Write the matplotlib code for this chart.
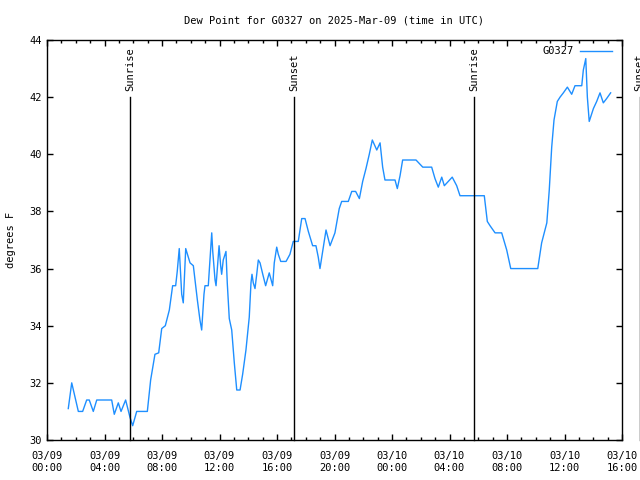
import pandas as pd
import numpy as np
import matplotlib
matplotlib.use('Agg')
import matplotlib.pyplot as plt
import matplotlib.dates as mdates

# === data: hours since 2025-03-09 00:00 UTC, dew point (F) ===
hours = [1.48, 1.72, 2.18, 2.48, 2.76, 2.94, 3.22, 3.46, 4.50, 4.68, 4.96, 5.15,
         5.47, 5.77, 5.96, 6.24, 6.98, 7.21, 7.51, 7.77, 7.98, 8.23, 8.51, 8.74,
         8.95, 9.06, 9.20, 9.37, 9.48, 9.65, 9.95, 10.18, 10.46, 10.64, 10.76, 10.92,
         10.99, 11.22, 11.34, 11.46, 11.53, 11.69, 11.76, 11.97, 12.08, 12.15, 12.26, 12.45,
         12.54, 12.68, 12.85, 13.03, 13.20, 13.43, 13.61, 13.84, 14.07, 14.19, 14.26, 14.35,
         14.47, 14.59, 14.70, 14.82, 15.01, 15.21, 15.46, 15.70, 15.81, 15.98, 16.09, 16.26,
         16.63, 16.90, 17.13, 17.48, 17.72, 17.95, 18.18, 18.48, 18.71, 18.87, 18.99, 19.22,
         19.41, 19.69, 20.03, 20.33, 20.50, 20.96, 21.20, 21.47, 21.73, 21.96, 22.19, 22.42,
         22.63, 22.94, 23.17, 23.35, 23.51, 24.21, 24.37, 24.56, 24.74, 25.67, 26.14, 26.76,
         26.99, 27.22, 27.46, 27.64, 28.19, 28.50, 28.73, 30.42, 30.63, 30.82, 31.17, 31.63,
         31.98, 32.26, 34.14, 34.41, 34.77, 34.94, 35.11, 35.27, 35.50, 35.69, 35.92, 36.20,
         36.50, 36.73, 37.20, 37.31, 37.48, 37.59, 37.72, 38.01, 38.24, 38.47, 38.70, 38.93,
         39.21]
dewpoint = [31.1, 32.0, 31.0, 31.0, 31.4, 31.4, 31.0, 31.4, 31.4, 30.9, 31.3, 31.0,
            31.4, 30.8, 30.5, 31.0, 31.0, 32.1, 33.0, 33.05, 33.9, 34.0, 34.55, 35.4,
            35.4, 35.9, 36.7, 35.1, 34.8, 36.7, 36.2, 36.1, 34.9, 34.2, 33.85, 35.1,
            35.4, 35.4, 36.3, 37.25, 36.6, 35.6, 35.4, 36.8, 36.1, 35.8, 36.3, 36.6,
            35.5, 34.25, 33.85, 32.7, 31.75, 31.75, 32.3, 33.15, 34.3, 35.5, 35.8, 35.5,
            35.3, 35.8, 36.3, 36.2, 35.8, 35.4, 35.85, 35.4, 36.2, 36.75, 36.5, 36.25,
            36.25, 36.5, 36.95, 36.95, 37.75, 37.75, 37.3, 36.8, 36.8, 36.4, 36.0, 36.75,
            37.35, 36.8, 37.25, 38.1, 38.35, 38.35, 38.7, 38.7, 38.45, 39.05, 39.5, 40.0,
            40.5, 40.15, 40.4, 39.55, 39.1, 39.1, 38.8, 39.25, 39.8, 39.8, 39.55, 39.55,
            39.15, 38.85, 39.2, 38.9, 39.2, 38.9, 38.55, 38.55, 37.65, 37.5, 37.25, 37.25,
            36.65, 36.0, 36.0, 36.9, 37.6, 38.75, 40.25, 41.2, 41.85, 42.0, 42.15, 42.35,
            42.1, 42.4, 42.4, 42.95, 43.35, 42.0, 41.15, 41.6, 41.85, 42.15, 41.8, 41.95,
            42.15]

sun_events = ['Sunrise', 'Sunset', 'Sunrise', 'Sunset']
sun_hours = [5.77, 17.18, 29.70, 41.22]

start = pd.Timestamp('2025-03-09 00:00')
times = start + pd.to_timedelta(hours, unit='h')
sun_times = start + pd.to_timedelta(sun_hours, unit='h')

plt.rcParams['font.family'] = ['DejaVu Sans Mono']
plt.rcParams['font.size'] = 7.5

fig = plt.figure(figsize=(6.4, 4.8), dpi=100)
ax = fig.add_axes([47 / 640, 40 / 480, 575 / 640, 400 / 480])

ax.plot(times, dewpoint, color='#1e8fff', linewidth=1, label='G0327')

# sunrise / sunset markers (the last one sits just past the right edge, like the original)
for name, t in zip(sun_events, sun_times):
    ax.axvline(t, ymin=0, ymax=(42 - 30) / 14, color='black', linewidth=1, clip_on=False)
    ax.text(t, 42.2, name, rotation=90, ha='center', va='bottom', clip_on=False)

ax.set_xlim(start, start + pd.Timedelta(hours=40))
ax.set_ylim(30, 44)
ax.set_yticks(np.arange(30, 45, 2))

ax.xaxis.set_major_locator(mdates.HourLocator(byhour=range(0, 24, 4)))
ax.xaxis.set_minor_locator(mdates.HourLocator())
ax.xaxis.set_major_formatter(mdates.DateFormatter('%m/%d\n%H:%M'))

ax.tick_params(which='both', direction='in', top=True, right=True, colors='black')
ax.tick_params(which='major', length=4.5, width=1)
ax.tick_params(which='minor', length=2.5, width=1)
ax.tick_params(axis='x', pad=8)
for s in ax.spines.values():
    s.set_linewidth(1)

ax.set_title('Dew Point for G0327 on 2025-Mar-09 (time in UTC)', fontsize=7.5, pad=12)
ax.set_ylabel('degrees F', labelpad=10)

ax.legend(loc='upper right', frameon=False, markerfirst=False, handlelength=3,
          handletextpad=0.6, borderaxespad=0.2, bbox_to_anchor=(0.993, 1.0))

fig.savefig('out.png', dpi=100)
